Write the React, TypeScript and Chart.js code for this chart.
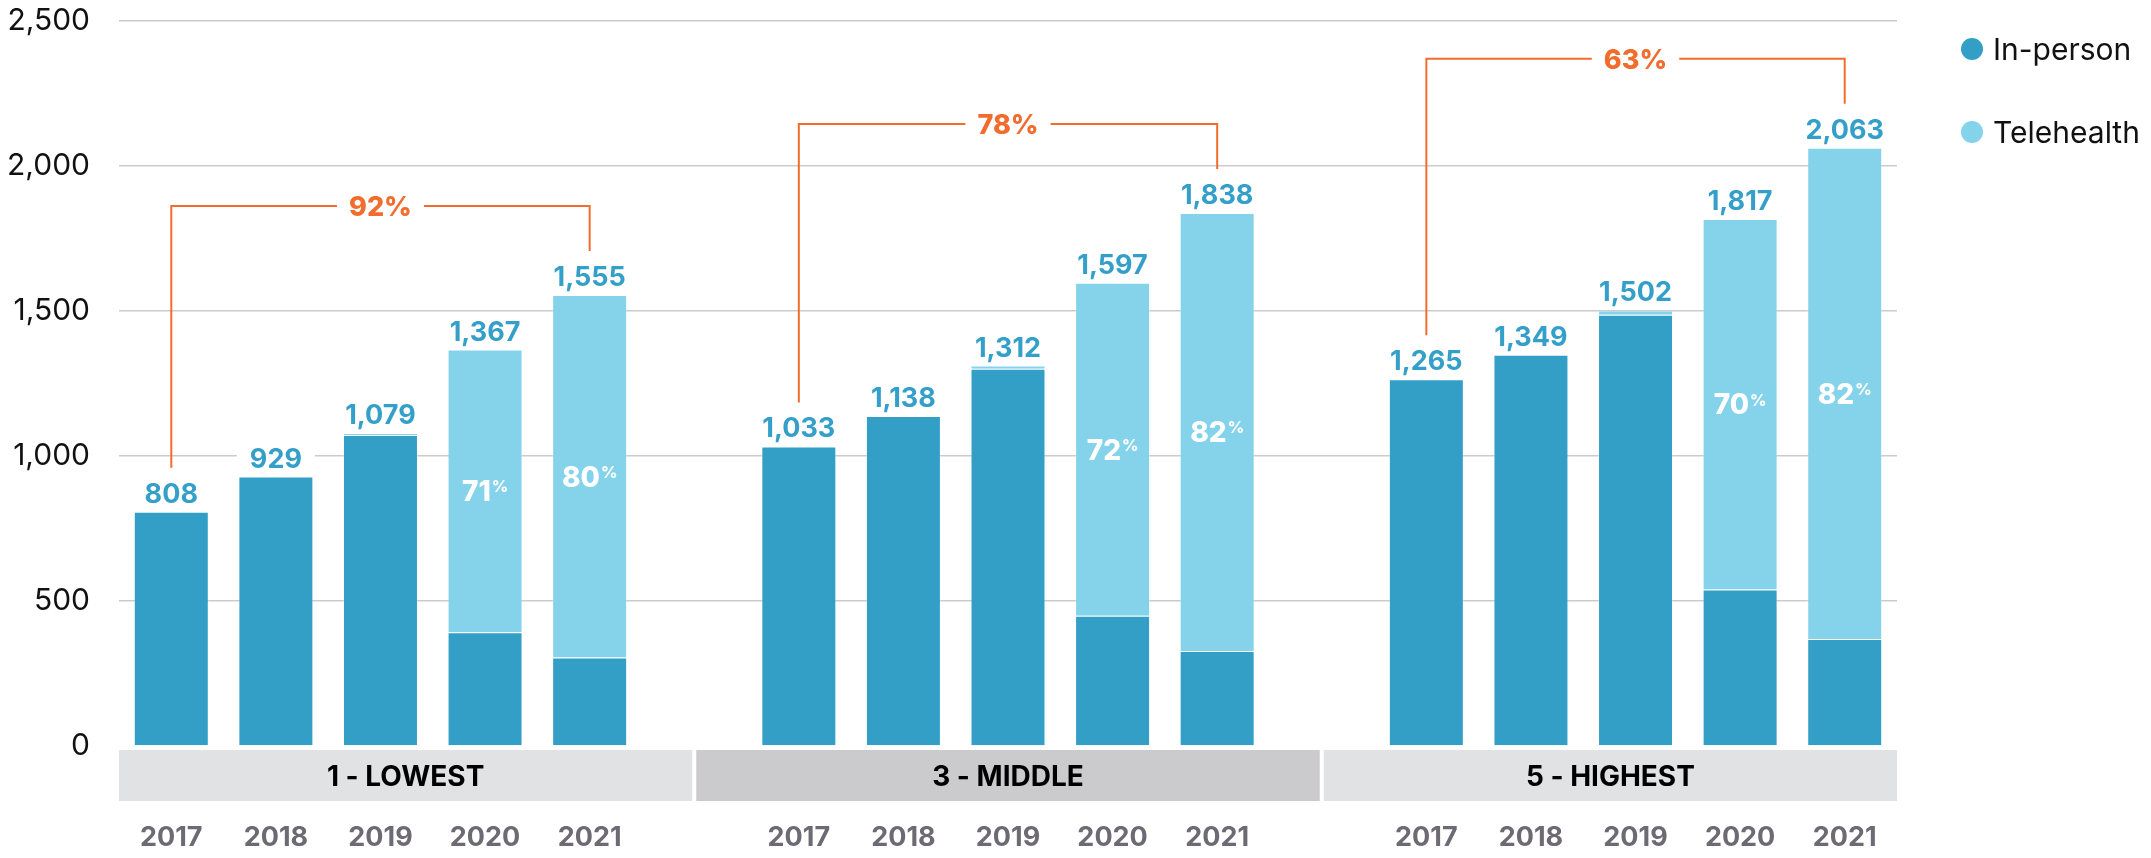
import React, { useEffect, useRef } from 'react';
import { Chart, registerables } from 'chart.js';

Chart.register(...registerables);

const FONT = 'Inter, "Liberation Sans", Arial, sans-serif';

const GROUPS = ['1 - LOWEST', '3 - MIDDLE', '5 - HIGHEST'];
const YEARS = ['2017', '2018', '2019', '2020', '2021'];

const IN_PERSON_LOWEST = [808, 929, 1072, 392, 305];
const TELEHEALTH_LOWEST = [0, 0, 7, 975, 1250];
const IN_PERSON_MIDDLE = [1033, 1138, 1301, 449, 328];
const TELEHEALTH_MIDDLE = [0, 0, 11, 1148, 1510];
const IN_PERSON_HIGHEST = [1265, 1349, 1487, 540, 369];
const TELEHEALTH_HIGHEST = [0, 0, 15, 1277, 1694];

const SHARE_LOWEST = [null, null, null, 71, 80];
const SHARE_MIDDLE = [null, null, null, 72, 82];
const SHARE_HIGHEST = [null, null, null, 70, 82];

const GROWTH_LABELS = ['92%', '78%', '63%'];

const Y_MIN = 0;
const Y_MAX = 2500;
const Y_STEP = 500;

const IN_PERSON_COLOR = '#339fc7';
const TELEHEALTH_COLOR = '#85d3eb';
const VALUE_COLOR = '#34a0c9';
const ORANGE = '#f26d2d';
const BAND_COLORS = ['#e1e2e4', '#cbcbcd', '#e1e2e4'];

const GROUP_DATA = [
  { inPerson: IN_PERSON_LOWEST, tele: TELEHEALTH_LOWEST, share: SHARE_LOWEST },
  { inPerson: IN_PERSON_MIDDLE, tele: TELEHEALTH_MIDDLE, share: SHARE_MIDDLE },
  { inPerson: IN_PERSON_HIGHEST, tele: TELEHEALTH_HIGHEST, share: SHARE_HIGHEST },
];

const SLOT = YEARS.length + 1;

function buildLabels(): string[] {
  const out: string[] = [];
  GROUPS.forEach((_, g) => {
    YEARS.forEach((yr) => out.push(yr));
    if (g < GROUPS.length - 1) out.push('');
  });
  return out;
}

function buildSeries(key: 'inPerson' | 'tele'): (number | null)[] {
  const out: (number | null)[] = [];
  GROUP_DATA.forEach((grp, g) => {
    grp[key].forEach((v) => out.push(v));
    if (g < GROUP_DATA.length - 1) out.push(null);
  });
  return out;
}

const overlayPlugin = {
  id: 'overlay',
  afterDatasetsDraw(chart: any) {
    const ctx = chart.ctx as CanvasRenderingContext2D;
    const x = chart.scales.x;
    const y = chart.scales.y;
    ctx.save();
    GROUP_DATA.forEach((grp, g) => {
      const totals = grp.inPerson.map((v, j) => v + grp.tele[j]);
      totals.forEach((total, j) => {
        const idx = g * SLOT + j;
        const cx = x.getPixelForValue(idx);
        const top = y.getPixelForValue(total);
        const text = total.toLocaleString('en-US');
        ctx.font = `bold 27px ${FONT}`;
        const w = ctx.measureText(text).width;
        ctx.fillStyle = '#ffffff';
        ctx.fillRect(cx - w / 2 - 13, top - 9 - 25, w + 26, 27);
        ctx.fillStyle = VALUE_COLOR;
        ctx.textAlign = 'center';
        ctx.textBaseline = 'alphabetic';
        ctx.fillText(text, cx, top - 9);

        const share = grp.share[j];
        if (share != null) {
          const mid = y.getPixelForValue(grp.inPerson[j] + grp.tele[j] / 2);
          const main = String(share);
          ctx.font = `800 28px ${FONT}`;
          const w1 = ctx.measureText(main).width;
          ctx.font = `800 16px ${FONT}`;
          const w2 = ctx.measureText('%').width;
          const start = cx - (w1 + 1 + w2) / 2;
          const base = mid + 10.2;
          ctx.fillStyle = '#ffffff';
          ctx.textAlign = 'left';
          ctx.font = `800 28px ${FONT}`;
          ctx.fillText(main, start, base);
          ctx.font = `800 16px ${FONT}`;
          ctx.fillText('%', start + w1 + 1, base - 20.4 + 11.6);
        }
      });

      // growth bracket
      const first = g * SLOT;
      const last = g * SLOT + YEARS.length - 1;
      const x0 = x.getPixelForValue(first);
      const x4 = x.getPixelForValue(last);
      const maxTotal = Math.max(...totals);
      const yH = y.getPixelForValue(maxTotal) - 89;
      const end0 = y.getPixelForValue(totals[0]) - 44;
      const end4 = y.getPixelForValue(totals[totals.length - 1]) - 44;
      const xm = (x0 + x4) / 2;
      ctx.font = `800 27px ${FONT}`;
      const lw = ctx.measureText(GROWTH_LABELS[g]).width;
      const gap = lw / 2 + 12;
      ctx.strokeStyle = ORANGE;
      ctx.lineWidth = 2;
      ctx.beginPath();
      ctx.moveTo(x0, end0);
      ctx.lineTo(x0, yH);
      ctx.lineTo(xm - gap, yH);
      ctx.moveTo(xm + gap, yH);
      ctx.lineTo(x4, yH);
      ctx.lineTo(x4, end4);
      ctx.stroke();
      ctx.fillStyle = ORANGE;
      ctx.textAlign = 'center';
      ctx.textBaseline = 'alphabetic';
      ctx.fillText(GROWTH_LABELS[g], xm, yH + 9.8);
    });
    ctx.restore();
  },
  afterDraw(chart: any) {
    const ctx = chart.ctx as CanvasRenderingContext2D;
    const x = chart.scales.x;
    const area = chart.chartArea;
    ctx.save();
    // group bands
    GROUPS.forEach((name, g) => {
      const start = g === 0 ? area.left : x.getPixelForValue(g * SLOT - 1) + 2;
      const end = g === GROUPS.length - 1 ? area.right : x.getPixelForValue(g * SLOT + YEARS.length) - 2;
      const top = area.bottom + 4;
      const bottom = area.bottom + 55;
      ctx.fillStyle = BAND_COLORS[g];
      ctx.fillRect(start, top, end - start, bottom - top);
      ctx.fillStyle = '#000000';
      ctx.font = `bold 28px ${FONT}`;
      ctx.textAlign = 'center';
      ctx.textBaseline = 'alphabetic';
      ctx.fillText(name, (start + end) / 2, (top + bottom) / 2 + 10.2);
    });
    // legend
    const items = [
      { label: 'In-person', color: IN_PERSON_COLOR, y: 49 },
      { label: 'Telehealth', color: TELEHEALTH_COLOR, y: 132 },
    ];
    items.forEach((it) => {
      ctx.fillStyle = it.color;
      ctx.beginPath();
      ctx.arc(1972, it.y, 11, 0, Math.PI * 2);
      ctx.fill();
      ctx.fillStyle = '#111111';
      ctx.font = `30px ${FONT}`;
      ctx.textAlign = 'left';
      ctx.textBaseline = 'alphabetic';
      ctx.fillText(it.label, 1993, it.y + 10.9);
    });
    ctx.restore();
  },
};

export default function App() {
  const canvasRef = useRef<HTMLCanvasElement | null>(null);

  useEffect(() => {
    if (!canvasRef.current) return;
    const chart = new Chart(canvasRef.current, {
      type: 'bar',
      data: {
        labels: buildLabels(),
        datasets: [
          {
            label: 'In-person',
            data: buildSeries('inPerson'),
            backgroundColor: IN_PERSON_COLOR,
            borderColor: 'rgba(255,255,255,0.25)',
            borderWidth: 1,
            stack: 's',
          },
          {
            label: 'Telehealth',
            data: buildSeries('tele'),
            backgroundColor: TELEHEALTH_COLOR,
            borderColor: 'rgba(255,255,255,0.25)',
            borderWidth: 1,
            stack: 's',
          },
        ],
      },
      options: {
        animation: false,
        responsive: false,
        maintainAspectRatio: false,
        devicePixelRatio: 1,
        layout: { padding: { top: 21, right: 254, left: 0, bottom: 0 } },
        datasets: { bar: { barPercentage: 0.717, categoryPercentage: 1 } },
        plugins: {
          legend: { display: false },
          tooltip: { enabled: false },
        },
        scales: {
          x: {
            stacked: true,
            grid: { display: false, drawTicks: false },
            border: { display: false },
            ticks: {
              padding: 76,
              color: '#6d6a74',
              font: { family: FONT, size: 27, weight: 'bold' },
              autoSkip: false,
              maxRotation: 0,
            },
            afterFit: (s: any) => {
              s.height = 112;
              s.paddingLeft = 0;
              s.paddingRight = 0;
            },
          },
          y: {
            stacked: true,
            min: Y_MIN,
            max: Y_MAX,
            grid: {
              drawTicks: false,
              lineWidth: 1.5,
              color: (c: any) => (c.tick && c.tick.value === 0 ? 'rgba(0,0,0,0)' : '#cbcbcb'),
            },
            border: { display: false },
            ticks: {
              stepSize: Y_STEP,
              padding: 29,
              color: '#111111',
              font: { family: FONT, size: 30 },
              callback: (v: any) => Number(v).toLocaleString('en-US'),
            },
            afterFit: (s: any) => {
              s.width = 119;
              s.paddingTop = 0;
              s.paddingBottom = 0;
            },
          },
        },
      },
      plugins: [overlayPlugin],
    } as any);
    return () => chart.destroy();
  }, []);

  return (
    <div style={{ position: 'fixed', left: 0, top: 0, width: 2151, height: 858, background: '#ffffff' }}>
      <canvas ref={canvasRef} width={2151} height={858} style={{ display: 'block', width: 2151, height: 858 }} />
    </div>
  );
}
